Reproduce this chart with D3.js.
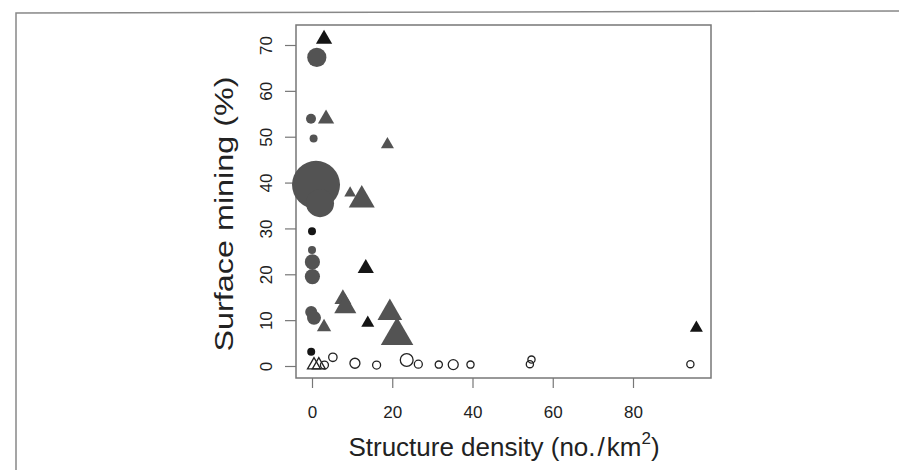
<!DOCTYPE html>
<html lang="en">
<head>
<meta charset="UTF-8">
<title>Surface mining vs structure density</title>
<script src="https://d3js.org/d3.v7.min.js"></script>
<style>
  body { margin: 0; background: #fff; font-family: "Liberation Sans", Arial, sans-serif; }
  svg { display: block; }
</style>
</head>
<body>
<div id="chart"></div>
<script>
// Data: x = structure density, y = surface mining (%), cex = relative symbol size
const grayCircleX   = [1.2, -0.25, 0.4, 1.0, 2.0, 0, 0.1, 0.1, -0.2, 0.5];
const grayCircleY   = [67.3, 53.9, 49.6, 39.5, 35.5, 25.3, 22.7, 19.5, 11.8, 10.5];
const grayCircleCex = [2.4, 1.25, 1.0, 6.0, 3.5, 1.0, 1.9, 1.9, 1.5, 1.75];

const blackCircleX   = [0, -0.2];
const blackCircleY   = [29.4, 3.1];
const blackCircleCex = [1.0, 1.0];

const grayTriX   = [3.5, 18.8, 9.5, 12.4, 7.7, 8.3, 3.0, 19.4, 21.2];
const grayTriY   = [53.9, 48.3, 37.7, 36.2, 14.6, 12.9, 8.5, 11.6, 6.6];
const grayTriCex = [1.25, 1.0, 0.9, 2.0, 1.3, 1.7, 1.1, 1.9, 2.5];

const blackTriX   = [3.0, 13.4, 13.9, 95.8];
const blackTriY   = [71.3, 21.3, 9.4, 8.3];
const blackTriCex = [1.25, 1.25, 1.0, 1.0];

const openCircleX   = [3.1, 5.2, 10.7, 16.1, 23.6, 26.5, 31.6, 35.2, 39.5, 54.3, 54.7, 94.3];
const openCircleY   = [0.2, 1.9, 0.6, 0.2, 1.3, 0.4, 0.3, 0.3, 0.3, 0.4, 1.4, 0.4];
const openCircleCex = [1.0, 1.05, 1.25, 1.0, 1.6, 1.0, 0.9, 1.25, 0.9, 0.9, 0.9, 0.9];

const openTriX   = [0.5, 1.7];
const openTriY   = [0.2, 0.2];
const openTriCex = [1.0, 1.0];

const xTicks = [0, 20, 40, 60, 80];
const yTicks = [0, 10, 20, 30, 40, 50, 60, 70];

const zip = (xs, ys, cs) => xs.map((x, i) => ({x, y: ys[i], cex: cs[i]}));

const W = 899, H = 470;
const box = {left: 296, right: 711, top: 25, bottom: 378};

const svg = d3.select("#chart").append("svg")
  .attr("width", W).attr("height", H);

// scanned page frame
svg.append("path")
  .attr("d", `M16,${H} L16,13 L${W},11`)
  .attr("fill", "none").attr("stroke", "#888").attr("stroke-width", 1.5);

const x = d3.scaleLinear().domain([0, 80]).range([312, 633]);
const y = d3.scaleLinear().domain([0, 70]).range([366, 45]);
const rScale = d3.scaleLinear().domain([0, 1]).range([0, 4]);     // circle radius
const sideScale = d3.scaleLinear().domain([0, 1]).range([0, 13]); // triangle side

// axes
const xAxis = d3.axisBottom(x).tickValues(xTicks).tickSize(10).tickPadding(18);
const yAxis = d3.axisLeft(y).tickValues(yTicks).tickSize(11);

const gx = svg.append("g").attr("transform", `translate(0,${box.bottom})`).call(xAxis);
gx.select(".domain").remove();
gx.selectAll("line").attr("stroke", "#777").attr("stroke-width", 1.2);
gx.selectAll("text").attr("font-size", 17).attr("fill", "#222")
  .attr("font-family", "Liberation Sans, Arial, sans-serif");

const gy = svg.append("g").attr("transform", `translate(${box.left},0)`).call(yAxis);
gy.select(".domain").remove();
gy.selectAll("line").attr("stroke", "#777").attr("stroke-width", 1.2);
gy.selectAll("text")
  .attr("font-size", 17).attr("fill", "#222")
  .attr("font-family", "Liberation Sans, Arial, sans-serif")
  .attr("text-anchor", "middle")
  .attr("x", 0).attr("y", 0).attr("dy", 0)
  .attr("transform", `translate(${272 - box.left},0) rotate(-90)`);

// plot box
svg.append("rect")
  .attr("x", box.left).attr("y", box.top)
  .attr("width", box.right - box.left).attr("height", box.bottom - box.top)
  .attr("fill", "none").attr("stroke", "#777").attr("stroke-width", 1.5);

const gray = "#535353", black = "#151515";
const tri = d => d3.symbol(d3.symbolTriangle, Math.sqrt(3) / 4 * Math.pow(sideScale(d.cex), 2))();

const marks = svg.append("g");

function circles(data, fill, stroke) {
  marks.selectAll(null).data(data).join("circle")
    .attr("cx", d => x(d.x)).attr("cy", d => y(d.y))
    .attr("r", d => rScale(d.cex))
    .attr("fill", fill)
    .attr("stroke", stroke || "none")
    .attr("stroke-width", stroke ? 1.3 : 0);
}
function triangles(data, fill, stroke) {
  marks.selectAll(null).data(data).join("path")
    .attr("transform", d => `translate(${x(d.x)},${y(d.y)})`)
    .attr("d", tri)
    .attr("fill", fill)
    .attr("stroke", stroke || "none")
    .attr("stroke-width", stroke ? 1.3 : 0);
}

circles(zip(grayCircleX, grayCircleY, grayCircleCex), gray);
triangles(zip(grayTriX, grayTriY, grayTriCex), gray);
circles(zip(blackCircleX, blackCircleY, blackCircleCex), black);
triangles(zip(blackTriX, blackTriY, blackTriCex), black);
circles(zip(openCircleX, openCircleY, openCircleCex), "none", "#222");
triangles(zip(openTriX, openTriY, openTriCex), "none", "#222");

// axis titles
const xt = svg.append("text")
  .attr("x", 504).attr("y", 456)
  .attr("text-anchor", "middle")
  .attr("font-size", 26).attr("fill", "#222");
xt.append("tspan").text("Structure density (no.");
xt.append("tspan").attr("dx", 2).text("/");
xt.append("tspan").attr("dx", 2).text("km");
xt.append("tspan").attr("font-size", 17).attr("dy", -12).text("2");
xt.append("tspan").attr("dy", 12).text(")");

svg.append("text")
  .attr("transform", `translate(233,214) rotate(-90)`)
  .attr("text-anchor", "middle")
  .attr("font-size", 26).attr("fill", "#222")
  .attr("textLength", 275).attr("lengthAdjust", "spacingAndGlyphs")
  .text("Surface mining (%)");
</script>
</body>
</html>
